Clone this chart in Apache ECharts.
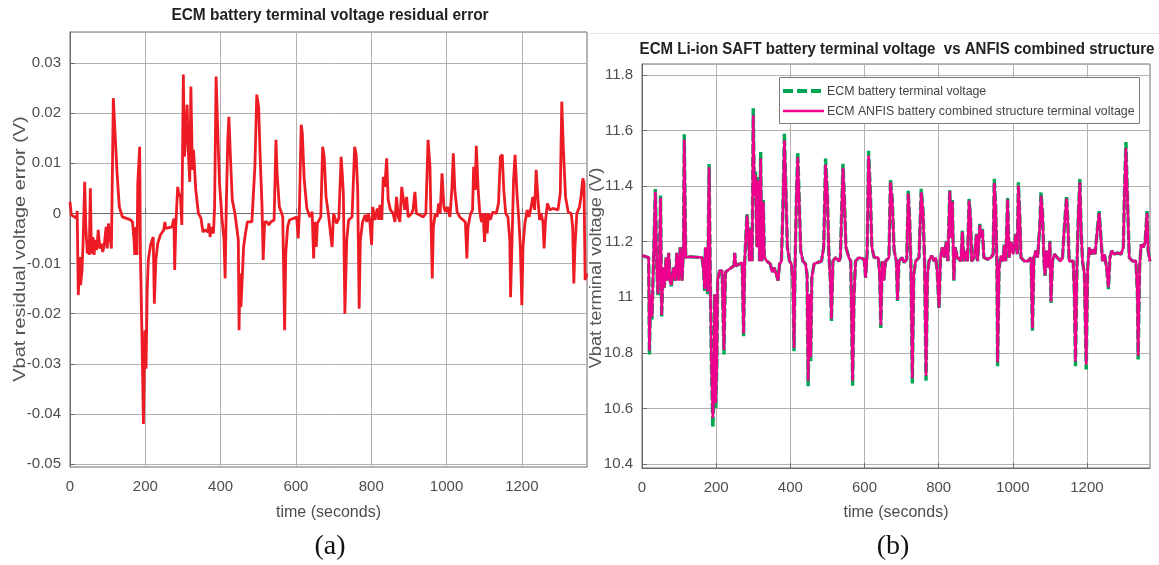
<!DOCTYPE html>
<html>
<head>
<meta charset="utf-8">
<script src="https://cdn.jsdelivr.net/npm/echarts@6/dist/echarts.min.js"></script>
<style>
html,body{margin:0;padding:0;background:#fff;}
#chart{width:1159px;height:565px;}
</style>
</head>
<body>
<div id="chart"></div>
<script>
// ---------- Panel (a): residual error ----------
const resT = [0,3.5,17.7,19,22,26,28,32,35,39,
42,46,49,51,54,57,61,64,67,71,
75,79,83,87,91,96,99,102,107,110,
115,119,125,131,139,161,166,170,172,175,
178,180,185,187,191,195,199,202,205,208,
214,221,224,228,233,240,249,252,254,271,
276,278,281,286,290,293,297,301,304,307,
311,314,318,321,325,328,334,341,348,353,
359,366,369,372,376,381,384,388,392,397,
404,409,412,415,419,422,426,431,438,443,
447,449,451,454,458,461,466,471,483,487,
491,496,501,505,510,513,517,523,528,533,
542,547,550,556,561,565,570,573,578,583,
602,606,609,614,617,622,629,637,643,647,
650,654,657,666,671,675,680,686,691,696,
700,704,708,714,720,723,726,730,735,740,
749,756,760,764,768,771,777,784,788,792,
796,801,804,810,816,820,823,828,832,836,
841,845,851,858,863,867,872,876,881,885,
889,894,898,907,911,916,920,929,938,945,
951,956,958,962,965,970,975,979,983,988,
993,997,1002,1009,1014,1018,1022,1028,1035,1044,
1050,1054,1057,1063,1069,1072,1076,1079,1084,1088,
1093,1097,1101,1104,1108,1111,1116,1123,1132,1138,
1143,1148,1152,1157,1163,1168,1170,1174,1178,1182,
1187,1192,1196,1200,1203,1208,1214,1219,1224,1229,
1234,1238,1243,1247,1251,1256,1259,1263,1268,1274,
1282,1296,1302,1306,1310,1316,1323,1331,1335,1338,
1341,1346,1353,1357,1362,1365,1368,1373];
const resV = [0.0023,-0.0003,-0.001,0.0005,-0.0163,-0.0087,-0.0143,-0.0113,-0.0053,0.0063,
-0.0027,-0.008,-0.0053,-0.0083,0.005,-0.008,-0.0047,-0.0083,-0.0053,-0.0073,
-0.0033,-0.007,-0.006,-0.0077,-0.0063,-0.0027,-0.007,-0.002,-0.0017,-0.007,
0.023,0.023,0.008,0.0013,-0.0007,-0.0013,-0.0017,-0.0053,-0.0083,-0.0027,
-0.0083,0.006,0.0133,-0.008,-0.024,-0.042,-0.0233,-0.031,-0.0153,-0.0093,
-0.0063,-0.0047,-0.018,-0.0093,-0.006,-0.0043,-0.0033,-0.0017,-0.003,-0.0027,
-0.001,-0.0113,-0.0023,0.0053,0.0033,0.004,-0.0023,0.0277,0.0113,0.0153,
0.0217,0.0127,0.0063,0.0253,0.0087,0.0127,0.0047,0,-0.001,-0.0037,
-0.0033,-0.0037,-0.002,-0.0047,-0.0027,-0.004,0.0013,0.0273,0.0173,0.006,
-0.0013,-0.0053,-0.013,0.0013,0.0147,0.0193,0.0113,0.0027,0,0.0003,
-0.0053,-0.0233,-0.012,-0.0187,-0.012,-0.0067,-0.004,-0.0017,-0.0017,-0.002,
0.0093,0.0237,0.0213,0.0113,0.0013,-0.0093,-0.0017,-0.0017,-0.0023,-0.0017,
-0.0013,0.0147,0.008,0.0013,0.0003,-0.0007,-0.0233,-0.008,-0.0027,-0.0013,
-0.0007,-0.005,0,0.0177,0.016,0.0067,0.001,-0.0007,0.0003,-0.009,
-0.0017,-0.0067,-0.002,-0.0007,0.0133,0.0113,0.0033,0,-0.0003,-0.0067,
0,-0.001,-0.002,-0.001,0.0113,0.008,0.004,-0.02,-0.0053,-0.0013,
-0.0007,0.0133,0.0117,0.0047,-0.019,-0.0053,-0.0017,-0.0003,-0.0017,0,
-0.0013,-0.0063,0.0013,-0.0013,0.001,-0.0013,0.0017,-0.0013,0.0073,0.0053,
0.011,0.0027,0.0007,0,-0.0017,0.0033,-0.0007,-0.0017,0.0053,0.005,
0.0007,0.0033,-0.0007,0,0.0007,0.0043,0,-0.0003,-0.0007,0,
0.0147,0.0093,0.0013,-0.013,-0.0027,0,-0.0007,0.002,0,0.008,
0.0013,0.0003,0.0013,-0.0007,0.0047,0.012,0.0047,0.0003,-0.0007,-0.0013,
-0.0017,-0.009,-0.0027,-0.0003,0.0007,0.0093,0.0047,0.0135,0.0047,0.0003,
-0.0017,0,-0.0057,0,-0.004,0,-0.0013,0.0003,0,0.002,
0.0113,0.0117,0.0047,0,-0.0007,-0.0053,-0.0167,-0.0053,0.0067,0.0117,
0.004,-0.0013,-0.0067,-0.0183,-0.0067,-0.002,0.0007,-0.0007,0.001,0.0033,
0.0007,0.0087,0.0027,-0.0013,0,-0.0017,-0.007,-0.0013,0.002,0.0007,
0.001,0.0007,0.004,0.0223,0.0133,0.0033,0.0003,0,-0.0027,-0.014,
-0.0067,0,0.0013,0.0033,0.007,0.006,-0.0133,-0.012];
const xTicksA = [0,200,400,600,800,1000,1200];

// ---------- Panel (b): terminal voltage ----------
const tR = [0,18,20,23,27,31,36,40,43,47,
50,53,57,60,65,68,72,76,79,85,
90,94,99,103,108,112,114,118,126,162,
166,169,171,175,177,181,184,187,191,194,
196,199,202,204,209,216,221,225,234,248,
250,253,270,274,277,283,286,290,293,297,
300,303,306,310,313,317,320,323,327,330,
337,346,351,356,362,367,371,376,380,384,
388,392,398,403,407,410,413,417,420,424,
428,434,441,445,448,452,455,458,464,473,
484,490,495,500,504,508,511,515,522,531,
535,542,546,550,558,563,568,572,576,585,
599,603,607,611,616,620,626,637,641,644,
648,652,657,666,670,675,680,686,689,693,
702,707,714,718,722,725,729,733,738,747,
753,758,762,766,770,774,781,788,792,796,
801,805,810,815,821,825,830,833,837,841,
844,851,860,864,868,873,878,882,886,889,
896,902,905,911,914,918,922,932,941,947,
950,954,957,959,963,968,974,977,981,986,
990,995,1001,1008,1012,1015,1019,1022,1031,1040,
1049,1053,1057,1062,1067,1073,1076,1080,1084,1087,
1091,1096,1100,1103,1107,1112,1120,1129,1134,1139,
1145,1148,1152,1157,1163,1166,1169,1173,1177,1181,
1184,1188,1193,1198,1202,1206,1211,1217,1222,1228,
1233,1237,1242,1247,1253,1258,1262,1267,1273,1282,
1292,1298,1301,1305,1309,1314,1323,1332,1336,1338,
1342,1346,1352,1357,1362,1365,1370];
const ecmV = [11.15,11.143,10.794,11.01,10.92,11.13,11.39,11.107,11.005,11.13,
11.366,10.927,11.107,11.035,11.143,11.06,11.16,11.053,11.04,11.107,
11.06,11.16,11.06,11.18,11.06,11.18,11.587,11.143,11.146,11.143,
11.095,11.023,11.18,11.13,11.011,11.48,11.083,10.77,10.53,10.65,
11.011,10.6,10.77,11.06,11.095,11.095,10.794,11.09,11.10,11.113,
11.16,11.113,11.125,10.86,11.13,11.30,11.25,11.13,11.25,11.13,
11.68,11.372,11.457,11.18,11.433,11.13,11.523,11.13,11.35,11.143,
11.13,11.12,11.09,11.107,11.083,11.06,11.12,11.13,11.324,11.589,
11.396,11.18,11.13,11.12,11.06,10.806,11.13,11.396,11.523,11.35,
11.168,11.13,11.12,11.083,10.68,11.011,10.77,11.071,11.12,11.125,
11.13,11.18,11.499,11.372,11.155,11.06,10.914,11.13,11.143,11.13,
11.143,11.48,11.35,11.18,11.143,11.13,10.68,11.011,11.13,11.143,
11.137,11.071,11.155,11.527,11.372,11.18,11.143,11.143,11.083,10.89,
11.13,11.06,11.13,11.143,11.426,11.35,11.168,11.13,10.987,11.13,
11.143,11.125,11.137,11.384,11.276,11.13,10.69,11.083,11.13,11.143,
11.39,11.31,11.13,10.70,11.083,11.13,11.15,11.13,11.143,11.095,
10.957,11.143,11.18,11.143,11.203,11.13,11.39,11.216,11.35,11.06,
11.18,11.143,11.13,11.24,11.13,11.168,11.13,11.354,11.288,11.13,
11.143,11.228,11.13,11.264,11.216,11.246,11.143,11.137,11.143,11.155,
11.426,11.324,11.13,10.752,11.107,11.15,11.13,11.19,11.13,11.36,
11.143,11.203,11.155,11.228,11.155,11.414,11.288,11.143,11.13,11.13,
11.143,10.88,11.143,11.168,11.143,11.264,11.378,11.31,11.13,11.077,
11.168,11.107,11.203,10.98,11.13,11.155,11.143,11.13,11.143,11.252,
11.366,11.288,11.13,11.137,11.13,11.011,10.752,11.107,11.31,11.426,
11.252,11.13,11.083,10.74,11.107,11.18,11.155,11.173,11.155,11.246,
11.31,11.228,11.13,11.155,11.107,11.029,11.143,11.168,11.155,11.16,
11.155,11.18,11.372,11.559,11.372,11.143,11.13,11.13,11.011,10.776,
11.107,11.19,11.18,11.203,11.31,11.168,11.13];
const anfisV = [11.15,11.143,10.808,11.01,10.93,11.13,11.38,11.107,11.012,11.13,
11.358,10.936,11.107,11.035,11.143,11.06,11.16,11.053,11.045,11.107,
11.06,11.16,11.06,11.18,11.06,11.18,11.568,11.143,11.146,11.143,
11.095,11.03,11.18,11.13,11.02,11.468,11.083,10.79,10.565,10.67,
11.011,10.62,10.785,11.06,11.095,11.095,10.81,11.09,11.10,11.113,
11.16,11.113,11.125,10.87,11.13,11.295,11.245,11.13,11.245,11.13,
11.655,11.365,11.44,11.18,11.42,11.13,11.5,11.13,11.343,11.143,
11.13,11.12,11.09,11.107,11.083,11.06,11.12,11.13,11.318,11.565,
11.39,11.18,11.13,11.12,11.06,10.818,11.13,11.388,11.505,11.345,
11.168,11.13,11.12,11.083,10.7,11.011,10.785,11.071,11.12,11.125,
11.13,11.18,11.478,11.365,11.155,11.06,10.922,11.13,11.143,11.13,
11.143,11.466,11.345,11.18,11.143,11.13,10.7,11.011,11.13,11.143,
11.137,11.071,11.155,11.51,11.365,11.18,11.143,11.143,11.083,10.9,
11.13,11.06,11.13,11.143,11.414,11.345,11.168,11.13,10.99,11.13,
11.143,11.125,11.137,11.373,11.27,11.13,10.71,11.083,11.13,11.143,
11.378,11.305,11.13,10.718,11.083,11.13,11.15,11.13,11.143,11.095,
10.963,11.143,11.18,11.143,11.2,11.13,11.382,11.214,11.345,11.062,
11.18,11.143,11.13,11.236,11.13,11.168,11.13,11.348,11.285,11.13,
11.143,11.226,11.13,11.26,11.214,11.243,11.143,11.137,11.143,11.155,
11.411,11.318,11.13,10.765,11.107,11.15,11.13,11.188,11.13,11.352,
11.143,11.2,11.155,11.226,11.155,11.402,11.284,11.143,11.13,11.13,
11.143,10.889,11.143,11.168,11.143,11.26,11.365,11.305,11.13,11.08,
11.168,11.107,11.2,10.985,11.13,11.155,11.143,11.13,11.143,11.25,
11.355,11.285,11.13,11.137,11.13,11.015,10.769,11.107,11.305,11.414,
11.25,11.13,11.086,10.758,11.107,11.18,11.155,11.173,11.155,11.243,
11.303,11.226,11.13,11.155,11.107,11.036,11.143,11.168,11.155,11.16,
11.155,11.18,11.368,11.537,11.365,11.143,11.13,11.13,11.015,10.79,
11.107,11.19,11.18,11.2,11.303,11.168,11.13];
const xTicksB = [0,200,400,600,800,1000,1200];

const legendNames = ['ECM battery terminal voltage','ECM ANFIS battery combined structure terminal voltage'];

function pairs(xs, ys){ return xs.map((x,i)=>[x, ys[i]]); }

const chart = echarts.init(document.getElementById('chart'), null, {renderer:'canvas'});
const FONT = '"Liberation Sans", Arial, sans-serif';
const tickFont = {color:'#4d4d4d', fontSize:15, fontFamily:FONT};
const gridLine = {show:true, lineStyle:{color:'#b4b0b0', width:1}};
const axisCol = '#6e6a6a';

function fmtX(ticks){ return v => (Math.abs(v-Math.round(v))<1e-6 && ticks.indexOf(Math.round(v)) >= 0) ? String(Math.round(v)) : ''; }

function label(x, y, text, font, fill, sx, sy, rot){
  return {type:'text', x:x, y:y, rotation:rot||0, scaleX:sx||1, scaleY:sy||1, z:10,
    style:{x:0, y:0, text:text, textAlign:'center', textVerticalAlign:'middle', font:font, fill:fill}};
}

const option = {
  animation:false,
  backgroundColor:'#ffffff',
  grid:[
    {left:70, top:32, width:517, height:435, show:true, borderColor:axisCol, borderWidth:1, backgroundColor:'#fff'},
    {left:642, top:64, width:508, height:404, show:true, borderColor:axisCol, borderWidth:1, backgroundColor:'#fff'}
  ],
  xAxis:[
    {type:'value', gridIndex:0, min:0, max:1373, interval:200,
     axisLine:{show:true, lineStyle:{color:axisCol}}, axisTick:{show:true, inside:true, length:5, lineStyle:{color:axisCol}},
     axisLabel:Object.assign({margin:12, formatter:fmtX(xTicksA), showMaxLabel:false}, tickFont),
     splitLine:gridLine,
     name:'time (seconds)', nameLocation:'middle', nameGap:38,
     nameTextStyle:{color:'#4d4d4d', fontSize:16, fontFamily:FONT}},
    {type:'value', gridIndex:1, min:0, max:1370, interval:200,
     axisLine:{show:true, lineStyle:{color:axisCol}}, axisTick:{show:true, inside:true, length:5, lineStyle:{color:axisCol}},
     axisLabel:Object.assign({margin:12, formatter:fmtX(xTicksB), showMaxLabel:false}, tickFont),
     splitLine:gridLine,
     name:'time (seconds)', nameLocation:'middle', nameGap:37,
     nameTextStyle:{color:'#4d4d4d', fontSize:16, fontFamily:FONT}}
  ],
  yAxis:[
    {type:'value', gridIndex:0, min:-0.0506, max:0.0362, splitNumber:8,
     axisLine:{show:true, lineStyle:{color:axisCol}}, axisTick:{show:true, inside:true, length:5, lineStyle:{color:axisCol}},
     axisLabel:Object.assign({margin:9, formatter:function(v){ const k=v*100; if(Math.abs(k-Math.round(k))>1e-6) return ''; const r=Math.round(k)/100; return r===0?'0':r.toFixed(2);} , showMinLabel:false, showMaxLabel:false}, tickFont),
     splitLine:gridLine},
    {type:'value', gridIndex:1, min:10.3856, max:11.8396, splitNumber:7,
     axisLine:{show:true, lineStyle:{color:axisCol}}, axisTick:{show:true, inside:true, length:5, lineStyle:{color:axisCol}},
     axisLabel:Object.assign({margin:9, formatter:function(v){ const k=v*5; if(Math.abs(k-Math.round(k))>1e-6) return ''; const r=Math.round(k)/5; return (Math.abs(r-Math.round(r))<1e-9)?String(Math.round(r)):r.toFixed(1);}, showMinLabel:false, showMaxLabel:false}, tickFont),
     splitLine:gridLine}
  ],
  series:[
    {name:'residual', type:'line', xAxisIndex:0, yAxisIndex:0, data:pairs(resT,resV), showSymbol:false, symbol:'none',
     lineStyle:{color:'#ed1c24', width:2.8}, z:3},
    {name:legendNames[0], type:'line', xAxisIndex:1, yAxisIndex:1, data:pairs(tR,ecmV), showSymbol:false, symbol:'none',
     lineStyle:{color:'#00a651', width:3.4, type:[10,3]}, z:3},
    {name:legendNames[1], type:'line', xAxisIndex:1, yAxisIndex:1, data:pairs(tR,anfisV), showSymbol:false, symbol:'none',
     lineStyle:{color:'#ec008c', width:2.6}, z:4}
  ],
  graphic:[
    {type:'line', shape:{x1:590, y1:33.5, x2:1159, y2:33.5}, style:{stroke:'#e6e6e6', lineWidth:1}, z:-1},
    label(330, 15, 'ECM battery terminal voltage residual error', 'bold 17px '+FONT, '#222', 0.91),
    label(897, 50, 'ECM Li-ion SAFT battery terminal voltage  vs ANFIS combined structure', 'bold 16px '+FONT, '#222', 0.94),
    label(20, 249, 'Vbat residual voltage error (V)', '17px '+FONT, '#555', 1.17, 1, Math.PI/2),
    label(597, 268, 'Vbat terminal voltage (V)', '16px '+FONT, '#555', 1.14, 1, Math.PI/2),
    label(330, 547, '(a)', '28px "Liberation Serif", "DejaVu Serif", serif', '#111'),
    label(893, 547, '(b)', '28px "Liberation Serif", "DejaVu Serif", serif', '#111'),
    // legend box (drawn by hand)
    {type:'rect', shape:{x:779.5, y:77.5, width:360, height:46}, style:{fill:'#fff', stroke:'#7a7a7a', lineWidth:1}, z:20},
    {type:'line', shape:{x1:783, y1:91, x2:824, y2:91}, style:{stroke:'#00a651', lineWidth:4, lineDash:[10,4]}, z:21},
    {type:'line', shape:{x1:783, y1:111, x2:824, y2:111}, style:{stroke:'#ec008c', lineWidth:2.6}, z:21},
    {type:'text', x:827, y:91, scaleX:0.95, z:21, style:{x:0, y:0, text:legendNames[0], textAlign:'left', textVerticalAlign:'middle', font:'13px '+FONT, fill:'#444'}},
    {type:'text', x:827, y:111, scaleX:0.95, z:21, style:{x:0, y:0, text:legendNames[1], textAlign:'left', textVerticalAlign:'middle', font:'13px '+FONT, fill:'#444'}}
  ]
};
chart.setOption(option);
</script>
</body>
</html>
